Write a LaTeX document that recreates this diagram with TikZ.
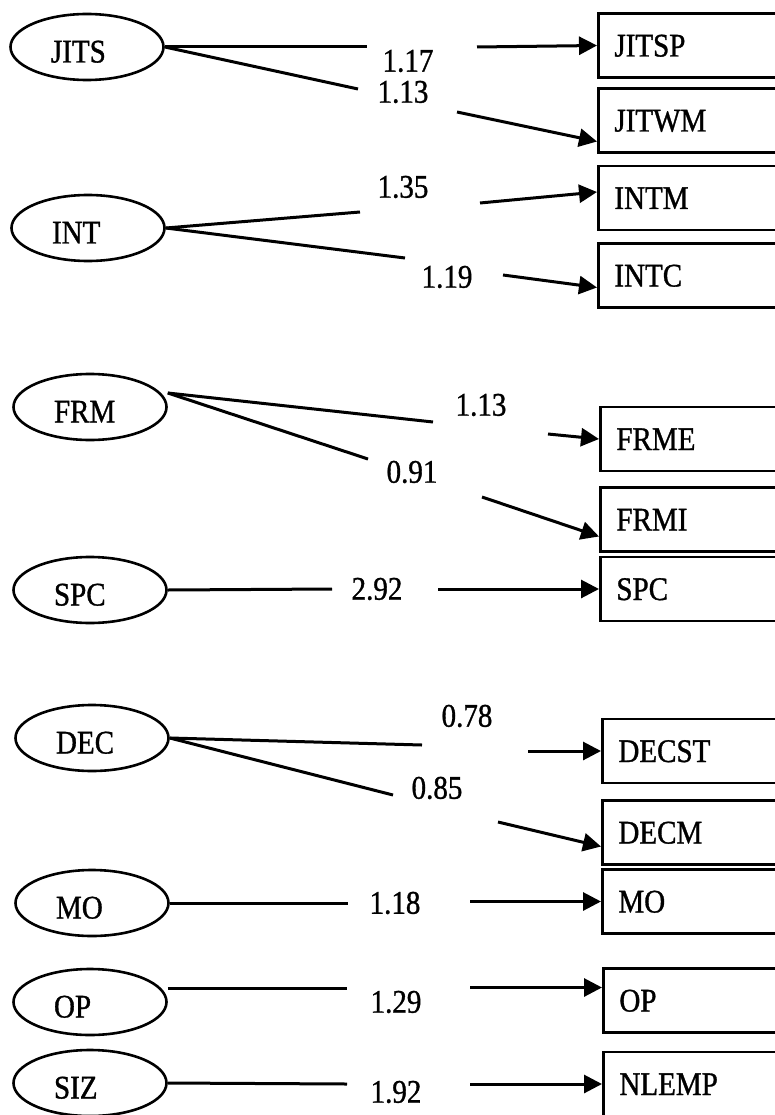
\documentclass[tikz,border=0pt]{standalone}
\usepackage{fontspec}
\setmainfont{Liberation Serif}[FakeStretch=0.88, FakeBold=1]
\usetikzlibrary{arrows.meta}
\usetikzlibrary{shapes.geometric}

\tikzset{
  latent/.style={draw, ellipse, line width=2.6pt, minimum width=153pt, minimum height=66pt,
    inner sep=0pt, text width=72pt, align=left, text height=31pt, text depth=0pt,
    font=\fontsize{33}{38}\selectfont},
  indicator/.style={draw, rectangle, anchor=west, line width=2.8pt, minimum height=64pt,
    inner xsep=16pt, inner ysep=0pt, text width=160pt, align=left, text height=22pt, text depth=0pt,
    font=\fontsize{33}{38}\selectfont},
  loading/.style={inner sep=0pt, font=\fontsize{33}{38}\selectfont},
  path/.style={line width=3pt}
}

\begin{document}
\begin{tikzpicture}[x=1pt, y=-1pt, >={Triangle[length=18pt, width=18pt]}]
       \useasboundingbox (0,0) rectangle (774,1115);

       % latent variables
       \foreach \nm/\txt/\x/\y in {JITS/JITS/87/47, INT/INT/88/228, FRM/FRM/90/407, SPC/SPC/90/590,
                                   DEC/DEC/92/738, MO/MO/92/903, OP/OP/90/1002, SIZ/SIZ/90/1083}
         \node[latent] (\nm) at (\x,\y) {\txt};

       % observed indicators
       \node[indicator] (jitsp) at (597,45.5) {JITSP};
       \node[indicator] (jitwm) at (597,120.5) {JITWM};
       \node[indicator] (intm) at (597,198) {INTM};
       \node[indicator] (intc) at (597,275.5) {INTC};
       \node[indicator] (frme) at (599,439) {FRME};
       \node[indicator] (frmi) at (599,519.5) {FRMI};
       \node[indicator] (spc) at (599,589) {SPC};
       \node[indicator] (decst) at (601,751) {DECST};
       \node[indicator] (decm) at (601,832.5) {DECM};
       \node[indicator] (mo) at (601,901.5) {MO};
       \node[indicator] (op) at (602,1000.5) {OP};
       \node[indicator] (nlemp) at (602,1084) {NLEMP};

       % JITS
       \coordinate (a1) at (367,47);
       \coordinate (b1) at (477,47);
       \draw[path] (JITS.east) -- (a1);
       \node[loading] (l1) at (408,61) {1.17};
       \draw[path, ->] (b1) -- (jitsp.west);

       \coordinate (a2) at (358,89);
       \coordinate (b2) at (457,112);
       \draw[path] (JITS.east) -- (a2);
       \node[loading] (l2) at (403,92) {1.13};
       \draw[path, ->] (b2) -- ([yshift=-21pt]jitwm.west);

       % INT
       \coordinate (a3) at (360,212);
       \coordinate (b3) at (480,203);
       \draw[path] (INT.east) -- (a3);
       \node[loading] (l3) at (403,187) {1.35};
       \draw[path, ->] (b3) -- ([yshift=6pt]intm.west);

       \coordinate (a4) at (405,258);
       \coordinate (b4) at (503,275);
       \draw[path] (INT.east) -- (a4);
       \node[loading] (l4) at (447,277) {1.19};
       \draw[path, ->] (b4) -- ([yshift=-12pt]intc.west);

       % FRM
       \coordinate (a5) at (433,422);
       \coordinate (b5) at (548,434);
       \draw[path] ([yshift=14pt]FRM.east) -- (a5);
       \node[loading] (l5) at (481,405) {1.13};
       \draw[path, ->] (b5) -- (frme.west);

       \coordinate (a6) at (368,459);
       \coordinate (b6) at (482,497);
       \draw[path] ([yshift=14pt]FRM.east) -- (a6);
       \node[loading] (l6) at (412,472) {0.91};
       \draw[path, ->] (b6) -- ([yshift=-17pt]frmi.west);

       % SPC
       \coordinate (a7) at (332,589);
       \coordinate (b7) at (438,589);
       \draw[path] (SPC.east) -- (a7);
       \node[loading] (l7) at (377,589) {2.92};
       \draw[path, ->] (b7) -- (spc.west);

       % DEC
       \coordinate (a8) at (422,745);
       \coordinate (b8) at (528,751);
       \draw[path] (DEC.east) -- (a8);
       \node[loading] (l8) at (467,716) {0.78};
       \draw[path, ->] (b8) -- (decst.west);

       \coordinate (a9) at (393,795);
       \coordinate (b9) at (498,822);
       \draw[path] (DEC.east) -- (a9);
       \node[loading] (l9) at (437,788) {0.85};
       \draw[path, ->] (b9) -- ([yshift=-14pt]decm.west);

       % MO, OP, SIZ
       \coordinate (a10) at (348,903);
       \coordinate (b10) at (470,901.5);
       \draw[path] (MO.east) -- (a10);
       \node[loading] (l10) at (395,903) {1.18};
       \draw[path, ->] (b10) -- (mo.west);

       \coordinate (a11) at (347,988);
       \coordinate (b11) at (470,987.5);
       \draw[path] ([yshift=14pt]OP.east) -- (a11);
       \node[loading] (l11) at (396,1002) {1.29};
       \draw[path, ->] (b11) -- ([yshift=13pt]op.west);

       \coordinate (a12) at (347,1084);
       \coordinate (b12) at (470,1084);
       \draw[path] (SIZ.east) -- (a12);
       \node[loading] (l12) at (396,1092) {1.92};
       \draw[path, ->] (b12) -- (nlemp.west);
\end{tikzpicture}
\end{document}
